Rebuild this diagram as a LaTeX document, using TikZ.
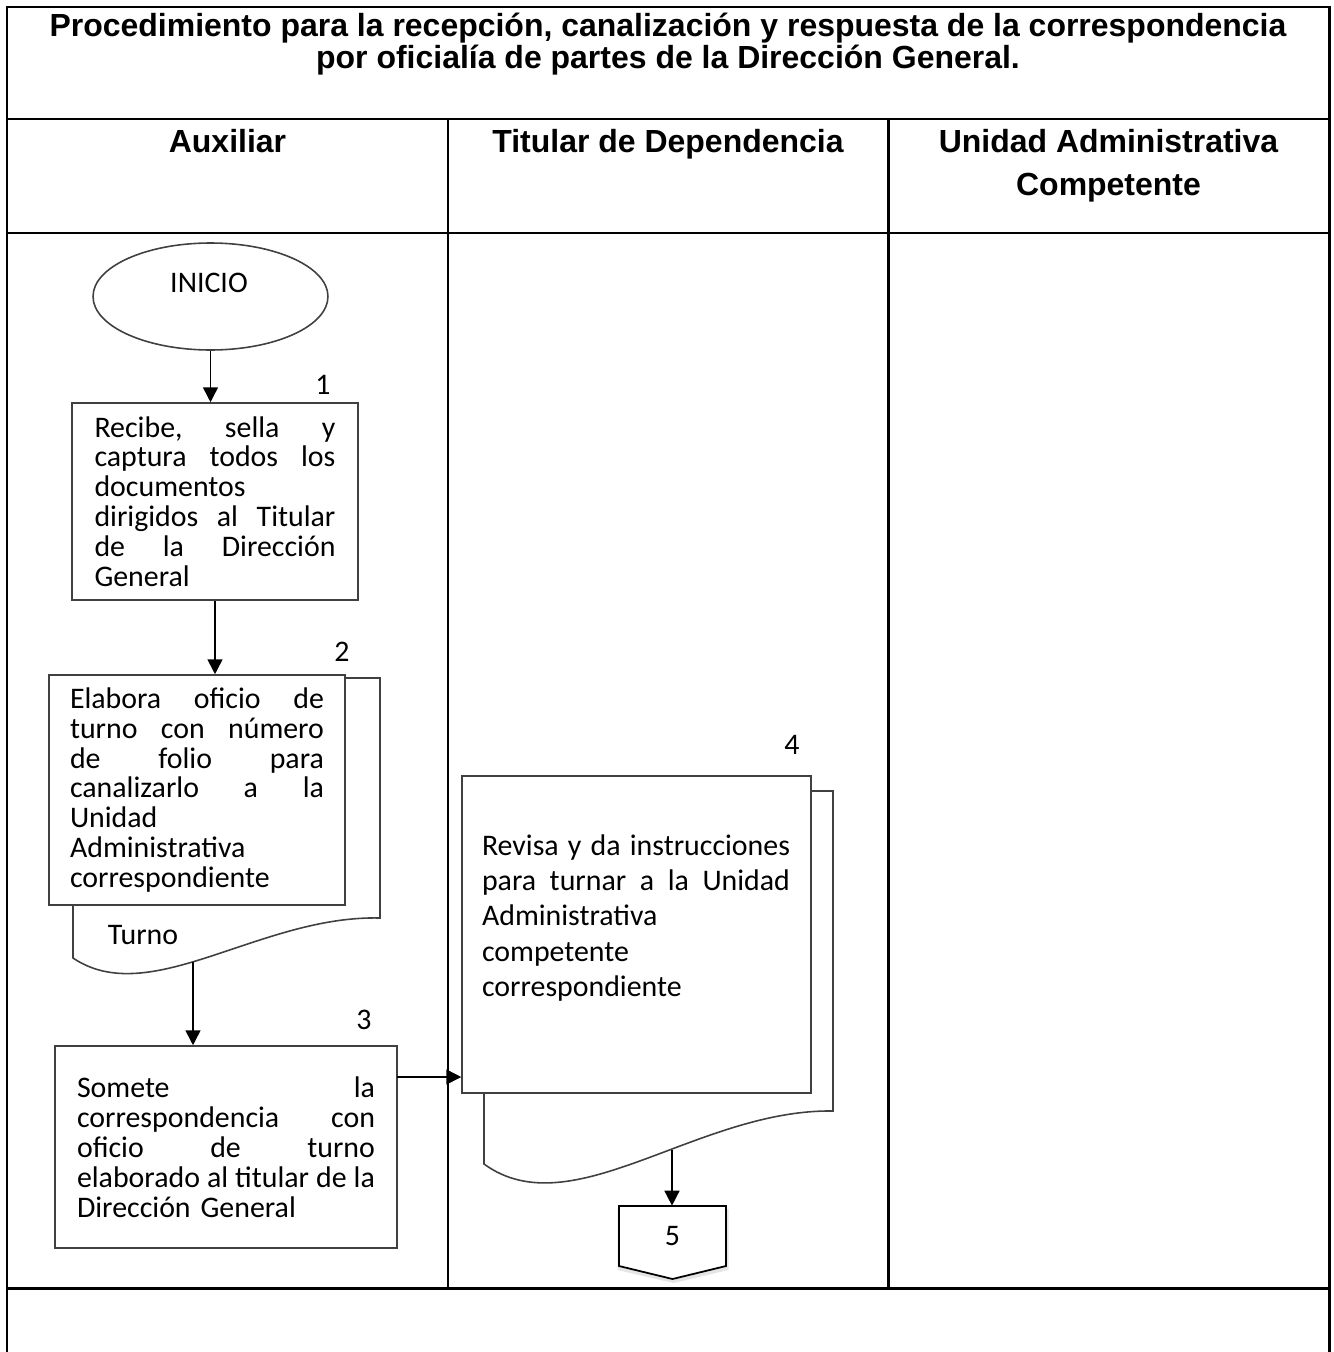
\documentclass[tikz,border=0pt]{standalone}
\usepackage{fontspec}
\setmainfont{Carlito}
\newfontfamily\headfont{Liberation Sans}
\usetikzlibrary{shapes.geometric,arrows.meta,calc}
% width of the justified lines of the current box
\newlength{\jw}
% one justified line of a process box
\newcommand\jline[1]{\makebox[\jw][s]{\frenchspacing\spaceskip=\fontdimen2\font plus 1fil\relax #1}}
\begin{document}
\begin{tikzpicture}[x=0.02cm,y=-0.02cm,
  grid/.style={line width=1.7pt,black,line join=miter},
  headtxt/.style={font=\headfont\bfseries\fontsize{18.2}{17}\selectfont, align=center, inner sep=0},
  shapeline/.style={draw=black!75, line width=0.9pt},
  jwidth/.style={text width=#1, execute at begin node={\setlength{\jw}{#1}}},
  procbox/.style={shapeline, fill=white, inner sep=0, font=\fontsize{17}{17}\selectfont, align=left},
  bodytxt/.style={font=\fontsize{17}{17}\selectfont, inner sep=0},
  arr/.style={line width=0.9pt, -{Triangle[length=8.5pt,width=8.5pt]}},
]
\useasboundingbox (0,0) rectangle (1334,1352);

% ---------- table frame ----------
\draw[grid] (7,1352) -- (7,7) -- (1329,7) -- (1329,1352);
\draw[grid] (7,119) -- (1329,119);
\draw[grid] (7,233) -- (1329,233);
\draw[grid] (7,1288) -- (1329,1288);
\draw[grid] (448,119) -- (448,1288);
\draw[grid] (888,119) -- (888,1288);

% ---------- headings ----------
\node[headtxt] (title) at (668,44)
  {Procedimiento para la recepción, canalización y respuesta de la correspondencia\\
   por oficialía de partes de la Dirección General.};
\node[headtxt, anchor=base] (h1) at (227.5,152) {Auxiliar};
\node[headtxt, anchor=base] (h2) at (668,152) {Titular de Dependencia};
\node[headtxt, anchor=base] (h3) at (1108.5,152) {Unidad Administrativa};
\node[headtxt, anchor=base] (h3b) at (1108.5,195) {Competente};

% ---------- lane 1 ----------
\node[shapeline, ellipse, minimum width=4.7cm, minimum height=2.14cm] (start) at (210.5,296.5) {};
\node[bodytxt] (startlbl) at (209,283) {INICIO};

\node[bodytxt] (n1) at (323,385) {1};
\node[procbox, minimum width=5.72cm, minimum height=3.94cm, jwidth=4.82cm] (b1) at (215,501.5)
  {\jline{Recibe, sella y}\\
   \jline{captura todos los}\\
   documentos\\
   \jline{dirigidos al Titular}\\
   \jline{de la Dirección}\\
   General};

% document shape 2
\draw[shapeline] (345,678) -- (380,678) -- (380,918)
  .. controls (260,915) and (150,1010) .. (73,958) -- (73,905);
\node[bodytxt] (n2) at (342,652) {2};
\node[procbox, minimum width=5.92cm, minimum height=4.6cm, jwidth=5.08cm] (d2) at (197,790)
  {\jline{Elabora oficio de}\\
   \jline{turno con número}\\
   \jline{de folio para}\\
   \jline{canalizarlo a la}\\
   Unidad\\
   Administrativa\\
   correspondiente};
\node[bodytxt] (turno) at (143,935) {Turno};
\coordinate (w2) at (193,962);

\node[bodytxt] (n3) at (364,1020) {3};
\node[procbox, minimum width=6.84cm, minimum height=4.04cm, jwidth=5.96cm] (b3) at (226,1147)
  {\jline{Somete la}\\
   \jline{correspondencia con}\\
   \jline{oficio de turno}\\
   \jline{elaborado al titular de la}\\
   Dirección General};
\coordinate (a3s) at (397,1077);

% ---------- lane 2 ----------
\draw[shapeline] (811,791) -- (833,791) -- (833,1111)
  .. controls (697,1109) and (572,1228) .. (484,1164) -- (484,1093);
\node[bodytxt] (n4) at (792,745) {4};
\node[procbox, minimum width=6.98cm, minimum height=6.34cm] (d4) at (636.5,934.5) {};
\node[bodytxt, font=\fontsize{17}{20}\selectfont, jwidth=6.16cm, align=left] (d4t) at (636,918)
  {\jline{Revisa y da instrucciones}\\
   \jline{para turnar a la Unidad}\\
   Administrativa\\
   competente\\
   correspondiente};
\coordinate (w4) at (672,1150);

% off-page connector 5
\coordinate (c5c) at (672.5,1236);
\fill[black, opacity=0.10] ($(c5c)+(-55,-27)$) -- ($(c5c)+(56,-27)$) -- ($(c5c)+(56,34)$) -- ($(c5c)+(1,47)$) -- ($(c5c)+(-55,34)$) -- cycle;
\draw[fill=white, line width=1pt] ($(c5c)+(-53.5,-30)$) -- ($(c5c)+(53.5,-30)$) -- ($(c5c)+(53.5,30)$)
  -- ($(c5c)+(0,43)$) -- ($(c5c)+(-53.5,30)$) -- cycle;
\node[bodytxt, minimum width=2.14cm, minimum height=1.2cm] (c5) at (c5c) {5};

% ---------- connectors ----------
\draw[arr] (start.south) -- (start.south |- b1.north);
\draw[arr] (b1.south) -- (b1.south |- d2.north);
\draw[arr] (w2) -- (w2 |- b3.north);
\draw[arr] (a3s) -- (a3s -| d4.west);
\draw[arr] (w4) -- (w4 |- c5.north);
\end{tikzpicture}
\end{document}
